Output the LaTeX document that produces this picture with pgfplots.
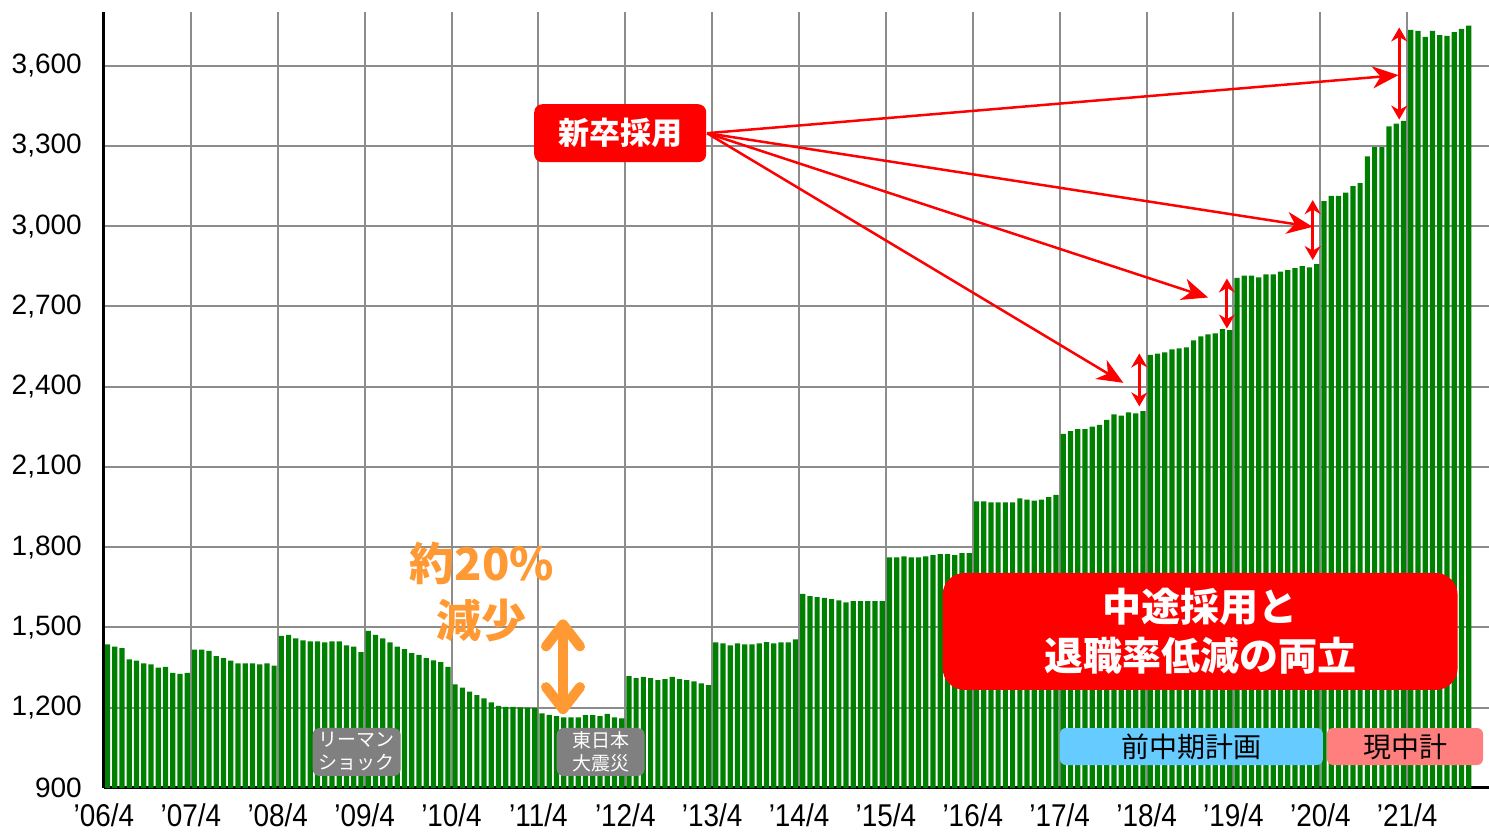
\documentclass[border=0pt]{standalone}
\usepackage{fontspec}
\setmainfont{Liberation Sans}
\newfontfamily\jp{Noto Sans CJK JP}
\usepackage{pgfplots}
\pgfplotsset{compat=1.18}
\usetikzlibrary{arrows.meta}
\definecolor{bargreen}{HTML}{008000}
\definecolor{gridgray}{HTML}{8C8C8C}
\definecolor{orng}{HTML}{FF9933}
\definecolor{lblue}{HTML}{66CCFF}
\definecolor{lpink}{HTML}{FF7F7F}
\definecolor{boxgray}{HTML}{808080}
\tikzset{
  sarrow/.style={red, line width=2.5pt, -{Stealth[length=26pt,width=22pt,inset=8pt]}},
  darrow/.style={red, line width=3pt, {Stealth[length=14pt,width=16pt]}-{Stealth[length=14pt,width=16pt]}},
}
\begin{document}
\begin{tikzpicture}
\begin{axis}[name=ax, scale only axis, width=1385pt, height=776pt,
  xmin=0, xmax=191.3, ymin=900, ymax=3800,
  xtick={0,12,...,180},
  xticklabels={’06/4,’07/4,’08/4,’09/4,’10/4,’11/4,’12/4,’13/4,’14/4,’15/4,’16/4,’17/4,’18/4,’19/4,’20/4,’21/4},
  ytick={900,1200,...,3600},
  grid=major, major grid style={gridgray, line width=2pt},
  major tick length=0pt,
  axis x line*=bottom, axis y line*=left,
  axis line style={black, line width=3pt, -},
  clip mode=individual,
  yticklabel style={font=\fontsize{28}{28}\selectfont, inner sep=0pt, xshift=-22pt},
  xticklabel style={font=\fontsize{30}{30}\selectfont, inner sep=0pt, yshift=-15pt, xscale=0.93, yscale=1.05},
  /pgf/number format/.cd, 1000 sep={,}, assume math mode=true,
]
\addplot[ybar, bar width=0.72, bar shift=0pt, fill=bargreen, draw=none]
  table[header=false, row sep=\\, x expr=\coordindex+0.5, y index=0] {
1437\\1428\\1423\\1381\\1376\\1366\\1362\\1350\\1353\\1330\\1326\\1330\\
1417\\1417\\1412\\1393\\1385\\1376\\1366\\1366\\1366\\1362\\1366\\1357\\
1468\\1472\\1459\\1452\\1448\\1448\\1444\\1448\\1448\\1433\\1428\\1408\\
1487\\1472\\1459\\1444\\1428\\1419\\1404\\1397\\1385\\1377\\1370\\1353\\
1287\\1275\\1260\\1247\\1235\\1220\\1207\\1203\\1203\\1201\\1200\\1199\\
1179\\1173\\1169\\1164\\1164\\1164\\1172\\1172\\1169\\1177\\1164\\1160\\
1318\\1311\\1315\\1311\\1303\\1307\\1315\\1307\\1303\\1298\\1291\\1284\\
1444\\1440\\1433\\1440\\1437\\1437\\1440\\1445\\1440\\1444\\1444\\1455\\
1625\\1617\\1613\\1610\\1606\\1601\\1594\\1598\\1598\\1598\\1598\\1598\\
1762\\1762\\1766\\1762\\1762\\1766\\1770\\1774\\1774\\1770\\1778\\1778\\
1971\\1971\\1967\\1967\\1967\\1967\\1982\\1978\\1974\\1978\\1987\\1995\\
2223\\2234\\2241\\2241\\2250\\2257\\2276\\2296\\2292\\2304\\2300\\2308\\
2519\\2523\\2528\\2539\\2543\\2547\\2573\\2588\\2595\\2599\\2615\\2611\\
2806\\2815\\2815\\2808\\2819\\2819\\2830\\2835\\2843\\2850\\2846\\2858\\
3093\\3113\\3113\\3125\\3149\\3160\\3260\\3295\\3295\\3373\\3383\\3393\\
3733\\3729\\3707\\3729\\3714\\3711\\3725\\3737\\3749\\
};
% red annotation: new graduates
\node[fill=red, rounded corners=8pt, minimum width=172pt, minimum height=58pt, inner sep=0pt,
  text=white, font=\jp\bfseries\fontsize{31}{31}\selectfont] at (axis cs:71.3,3347) {新卒採用};
\draw[sarrow] (axis cs:83.3,3347) -- (axis cs:178.8,3564);
\draw[sarrow] (axis cs:83.3,3347) -- (axis cs:166.95,2997);
\draw[sarrow] (axis cs:83.3,3347) -- (axis cs:152.5,2733);
\draw[sarrow] (axis cs:83.3,3347) -- (axis cs:140.8,2414);
\draw[darrow] (axis cs:143.0,2524) -- (axis cs:143.0,2326);
\draw[darrow] (axis cs:155.1,2804) -- (axis cs:155.1,2617);
\draw[darrow] (axis cs:166.95,3097) -- (axis cs:166.95,2873);
\draw[darrow] (axis cs:178.9,3742) -- (axis cs:178.9,3398);
% orange
\draw[orng, line width=10pt, line cap=round,
  {Straight Barb[length=22pt,width=34pt,round]}-{Straight Barb[length=22pt,width=34pt,round]}]
  (axis cs:63.4,1530) -- (axis cs:63.4,1176);
\node[text=orng, align=center, font=\jp\bfseries\fontsize{45}{57}\selectfont] at (axis cs:52.2,1634) {約20\%\\減少};
% big red box
\node[fill=red, rounded corners=22pt, minimum width=515pt, minimum height=117pt, inner sep=0pt,
  text=white, align=center, font=\jp\bfseries\fontsize{39}{49}\selectfont] at (axis cs:151.4,1485)
  {中途採用と\\退職率低減の両立};
% gray boxes
\node[fill=boxgray, rounded corners=7pt, minimum width=88pt, minimum height=48pt, inner sep=0pt,
  text=white, align=center, font=\jp\fontsize{19}{23}\selectfont] at (axis cs:34.9,1034.5) {リーマン\\ショック};
\node[fill=boxgray, rounded corners=7pt, minimum width=88pt, minimum height=48pt, inner sep=0pt,
  text=white, align=center, font=\jp\fontsize{19}{23}\selectfont] at (axis cs:68.6,1034.5) {東日本\\大震災};
% plan boxes
\node[fill=lblue, rounded corners=6pt, minimum width=263pt, minimum height=37pt, inner sep=0pt,
  font=\jp\fontsize{28}{28}\selectfont] at (axis cs:150.2,1055) {前中期計画};
\node[fill=lpink, rounded corners=6pt, minimum width=156pt, minimum height=37pt, inner sep=0pt,
  font=\jp\fontsize{28}{28}\selectfont] at (axis cs:179.7,1055) {現中計};
\end{axis}
\pgfresetboundingbox
\path ([shift={(-104pt,-48pt)}]ax.south west) rectangle ([shift={(0pt,12pt)}]ax.north east);
\end{tikzpicture}
\end{document}
